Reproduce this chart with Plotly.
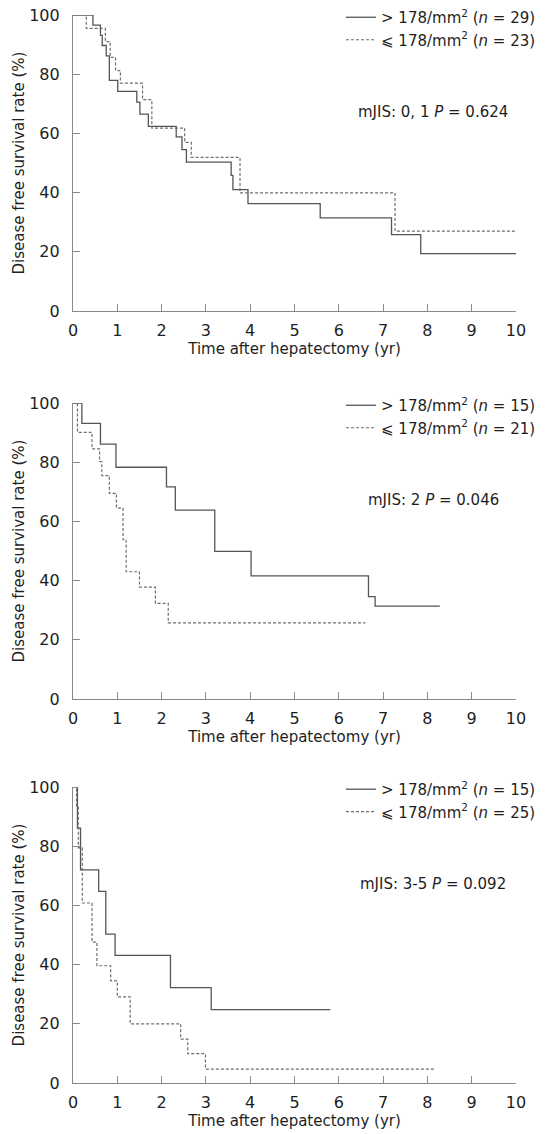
import plotly.graph_objects as go

# ---------------- data ----------------
panel_names = ["mJIS: 0, 1", "mJIS: 2", "mJIS: 3-5"]
p_values = ["0.624", "0.046", "0.092"]
n_high = [29, 15, 15]
n_low = [23, 21, 25]

# Panel 1 (mJIS 0,1)
t_high_1 = [0, 0.45, 0.62, 0.66, 0.75, 0.82, 1.01, 1.44, 1.51, 1.70, 2.33, 2.46, 2.56, 3.57, 3.61, 3.95, 5.58, 7.19, 7.85, 10.0]
s_high_1 = [100, 96.6, 93.1, 89.7, 86.2, 77.9, 74.2, 70.6, 66.5, 62.4, 58.8, 54.5, 50.3, 45.8, 41.0, 36.3, 31.5, 25.8, 19.4, 19.4]
t_low_1 = [0, 0.30, 0.73, 0.84, 0.96, 1.07, 1.57, 1.78, 2.52, 2.67, 3.77, 7.27, 10.2]
s_low_1 = [100, 95.5, 91.0, 85.7, 81.2, 77.0, 71.4, 61.8, 57.0, 51.9, 39.9, 27.0, 27.0]

# Panel 2 (mJIS 2)
t_high_2 = [0, 0.20, 0.62, 0.97, 2.11, 2.31, 3.20, 4.02, 6.67, 6.82, 8.28]
s_high_2 = [100, 93.1, 86.1, 78.3, 71.7, 63.8, 49.9, 41.6, 34.6, 31.4, 31.4]
t_low_2 = [0, 0.10, 0.43, 0.60, 0.65, 0.82, 0.98, 1.13, 1.20, 1.50, 1.86, 2.15, 6.60]
s_low_2 = [100, 90.1, 84.5, 80.2, 75.5, 69.5, 64.5, 53.8, 43.0, 37.8, 32.3, 25.7, 25.7]

# Panel 3 (mJIS 3-5)
t_high_3 = [0, 0.10, 0.17, 0.58, 0.74, 0.95, 2.20, 3.12, 5.81]
s_high_3 = [100, 86.1, 72.0, 64.7, 50.3, 43.1, 32.2, 24.8, 24.8]
t_low_3 = [0, 0.08, 0.12, 0.21, 0.43, 0.54, 0.85, 1.00, 1.29, 2.43, 2.59, 2.99, 8.15]
s_low_3 = [100, 93.4, 79.4, 60.8, 47.6, 39.6, 34.5, 29.1, 20.0, 14.8, 9.9, 4.7, 4.7]

x_ticks = list(range(0, 11))
y_ticks = [0, 20, 40, 60, 80, 100]
x_title = "Time after hepatectomy (yr)"
y_title = "Disease free survival rate (%)"

highs = [(t_high_1, s_high_1), (t_high_2, s_high_2), (t_high_3, s_high_3)]
lows = [(t_low_1, s_low_1), (t_low_2, s_low_2), (t_low_3, s_low_3)]

# ---------------- figure ----------------
FONT = "DejaVu Sans"
TEXT = "#1e1e1e"
AXIS = "#8a8a8a"
SOLID = "#555555"
DASH = "#6e6e6e"

fig = go.Figure()

domains = [[0.7228, 1.0], [0.3595, 0.6367], [0.0, 0.2772]]
legend_names = ["legend", "legend2", "legend3"]

for i in range(3):
    xa = "x" if i == 0 else f"x{i+1}"
    ya = "y" if i == 0 else f"y{i+1}"
    th, sh = highs[i]
    tl, sl = lows[i]
    fig.add_trace(go.Scatter(
        x=th, y=sh, mode="lines", line_shape="hv",
        line=dict(color=SOLID, width=1.3),
        name=f"&gt; 178/mm<sup>2</sup> (<i>n</i> = {n_high[i]})",
        xaxis=xa, yaxis=ya, legend=legend_names[i], showlegend=True))
    fig.add_trace(go.Scatter(
        x=tl, y=sl, mode="lines", line_shape="hv",
        line=dict(color=DASH, width=1.2, dash="3px,2px"),
        name=f"⩽ 178/mm<sup>2</sup> (<i>n</i> = {n_low[i]})",
        xaxis=xa, yaxis=ya, legend=legend_names[i], showlegend=True))

layout = dict(
    width=546, height=1134,
    margin=dict(l=73, r=30, t=15, b=51, autoexpand=False),
    paper_bgcolor="white", plot_bgcolor="white",
    font=dict(family=FONT, size=15, color=TEXT),
    showlegend=True,
)

axis_common = dict(
    showline=True, linecolor=AXIS, linewidth=1.2,
    ticks="inside", ticklen=7, tickcolor=AXIS, tickwidth=1,
    showgrid=False, zeroline=False, automargin=False,
    ticklabeloverflow="allow",
    tickfont=dict(family=FONT, size=16, color=TEXT),
)

for i in range(3):
    xk = "xaxis" if i == 0 else f"xaxis{i+1}"
    yk = "yaxis" if i == 0 else f"yaxis{i+1}"
    ya = "y" if i == 0 else f"y{i+1}"
    xa = "x" if i == 0 else f"x{i+1}"
    layout[xk] = dict(axis_common, domain=[0, 1], anchor=ya, range=[0, 10],
                      tickvals=x_ticks, ticklabelstandoff=5,
                      title=dict(text=x_title, font=dict(size=15, color=TEXT), standoff=3))
    layout[yk] = dict(axis_common, domain=domains[i], anchor=xa, range=[0, 100],
                      tickvals=y_ticks, ticklabelstandoff=9,
                      title=dict(text=y_title, font=dict(size=15, color=TEXT), standoff=0))
    top = domains[i][1]
    layout[legend_names[i]] = dict(
        x=(541 - 73) / 443, xanchor="right",
        y=top + 14 / 1068, yanchor="top",
        bgcolor="rgba(0,0,0,0)", borderwidth=0,
        font=dict(family=FONT, size=15, color=TEXT),
        itemwidth=30, tracegroupgap=0,
    )

fig.update_layout(**layout)

for i in range(3):
    xa = "x" if i == 0 else f"x{i+1}"
    ya = "y" if i == 0 else f"y{i+1}"
    fig.add_annotation(
        xref=f"{xa} domain", yref=f"{ya} domain",
        x=0.813, y=1 - 97 / 296, xanchor="center", yanchor="middle",
        text=f"{panel_names[i]} <i>P</i> = {p_values[i]}",
        showarrow=False, font=dict(family=FONT, size=15, color=TEXT))

# remove the default 8px page margin so the figure fills the window exactly
fig.write_html("out.html", config={"displayModeBar": False},
               post_script="document.body.style.margin='0';")
